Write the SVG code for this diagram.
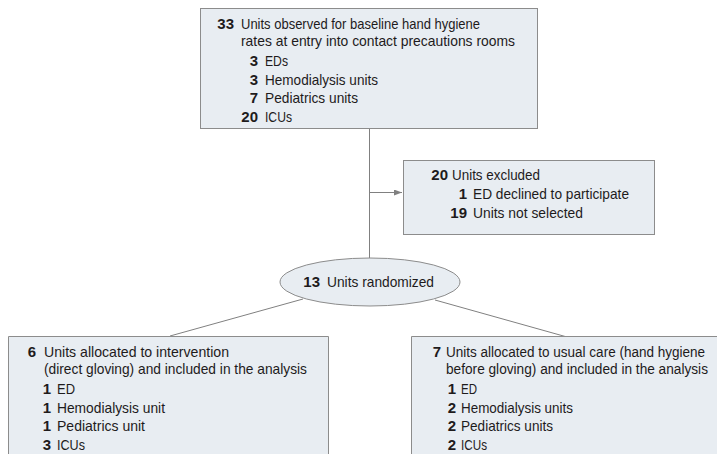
<svg xmlns="http://www.w3.org/2000/svg" width="717" height="454" viewBox="0 0 717 454">
<style>
.box{fill:#e8edf2;stroke:#8c8c8c;stroke-width:1}
.fill{fill:#e8edf2;stroke:none}
.edge{fill:none;stroke:#8c8c8c;stroke-width:1}
.ln{stroke:#808080;stroke-width:1;fill:none}
text{font-family:"Liberation Sans",Arial,sans-serif;font-size:15px;fill:#1e1b1c}
.n{font-weight:bold;text-anchor:end}
</style>
<defs>
<marker id="ah" markerWidth="8" markerHeight="6" refX="8" refY="3" orient="auto" markerUnits="userSpaceOnUse">
<path d="M0,0 L8,3 L0,6 Z" fill="#808080"/>
</marker>
</defs>
<g id="connectors">
<line class="ln" x1="369.5" y1="129" x2="369.5" y2="258"/>
<line class="ln" x1="369.5" y1="192.5" x2="402" y2="192.5" marker-end="url(#ah)"/>
<line class="ln" x1="303" y1="299" x2="170" y2="336"/>
<line class="ln" x1="435" y1="300" x2="567" y2="337"/>
</g>
<g id="baseline">
<rect class="box" x="200.5" y="8.5" width="337" height="120"/>
<text class="n" x="234" y="29">33</text><text x="241" y="29" textLength="239" lengthAdjust="spacingAndGlyphs">Units observed for baseline hand hygiene</text>
<text x="241" y="46" textLength="274" lengthAdjust="spacingAndGlyphs">rates at entry into contact precautions rooms</text>
<text class="n" x="258" y="66">3</text><text x="265" y="66" textLength="23" lengthAdjust="spacingAndGlyphs">EDs</text>
<text class="n" x="258" y="84.5">3</text><text x="265" y="84.5" textLength="113" lengthAdjust="spacingAndGlyphs">Hemodialysis units</text>
<text class="n" x="258" y="103">7</text><text x="265" y="103" textLength="93" lengthAdjust="spacingAndGlyphs">Pediatrics units</text>
<text class="n" x="258" y="121.5">20</text><text x="265" y="121.5" textLength="27" lengthAdjust="spacingAndGlyphs">ICUs</text>
</g>
<g id="excluded">
<rect class="box" x="403.5" y="160.5" width="251" height="74"/>
<text class="n" x="448" y="180">20</text><text x="452" y="180" textLength="88" lengthAdjust="spacingAndGlyphs">Units excluded</text>
<text class="n" x="467" y="199">1</text><text x="473" y="199" textLength="156" lengthAdjust="spacingAndGlyphs">ED declined to participate</text>
<text class="n" x="467" y="217.5">19</text><text x="473" y="217.5" textLength="110" lengthAdjust="spacingAndGlyphs">Units not selected</text>
</g>
<g id="randomized">
<ellipse class="box" cx="370" cy="282" rx="90" ry="24"/>
<text class="n" x="320" y="287">13</text><text x="327" y="287" textLength="107" lengthAdjust="spacingAndGlyphs">Units randomized</text>
</g>
<g id="intervention">
<rect class="fill" x="8.5" y="336.5" width="320" height="117.5"/>
<path class="edge" d="M8.5,454 V336.5 H328.5 V454"/>
<text class="n" x="36" y="357">6</text><text x="44" y="357" textLength="185" lengthAdjust="spacingAndGlyphs">Units allocated to intervention</text>
<text x="44" y="374" textLength="263" lengthAdjust="spacingAndGlyphs">(direct gloving) and included in the analysis</text>
<text class="n" x="51" y="393.5">1</text><text x="57" y="393.5" textLength="18" lengthAdjust="spacingAndGlyphs">ED</text>
<text class="n" x="51" y="412.5">1</text><text x="57" y="412.5" textLength="108" lengthAdjust="spacingAndGlyphs">Hemodialysis unit</text>
<text class="n" x="51" y="431">1</text><text x="57" y="431" textLength="88" lengthAdjust="spacingAndGlyphs">Pediatrics unit</text>
<text class="n" x="51" y="450">3</text><text x="57" y="450" textLength="28" lengthAdjust="spacingAndGlyphs">ICUs</text>
</g>
<g id="usualcare">
<rect class="fill" x="411.5" y="336.5" width="305.5" height="117.5"/>
<path class="edge" d="M411.5,454 V336.5 H717"/>
<text class="n" x="441" y="357">7</text>
<g transform="translate(446,0) scale(0.85,1)">
<text x="0" y="357" textLength="304.7" lengthAdjust="spacingAndGlyphs">Units allocated to usual care (hand hygiene</text>
<text x="0" y="374" textLength="308.2" lengthAdjust="spacingAndGlyphs">before gloving) and included in the analysis</text>
</g>
<text class="n" x="456" y="393.5">1</text><text x="461" y="393.5" textLength="16" lengthAdjust="spacingAndGlyphs">ED</text>
<text class="n" x="456" y="412.5">2</text><text x="461" y="412.5" textLength="112" lengthAdjust="spacingAndGlyphs">Hemodialysis units</text>
<text class="n" x="456" y="431">2</text><text x="461" y="431" textLength="92" lengthAdjust="spacingAndGlyphs">Pediatrics units</text>
<text class="n" x="456" y="450">2</text><text x="461" y="450" textLength="26" lengthAdjust="spacingAndGlyphs">ICUs</text>
</g>
</svg>
